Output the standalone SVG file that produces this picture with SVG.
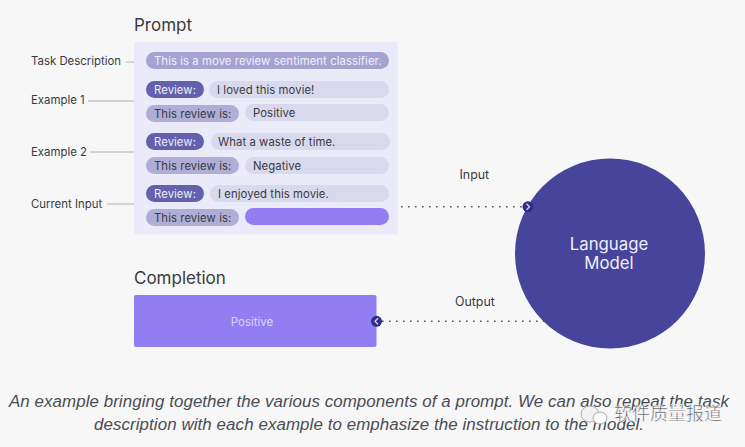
<svg xmlns="http://www.w3.org/2000/svg" width="745" height="447" viewBox="0 0 745 447">
<style>
text{font-family:Inter,"Liberation Sans",sans-serif;fill:#3a3a40}
.lbl{font-size:11.4px}
.io{font-size:12.4px}
.h{font-size:17px}
.pill{font-size:11.3px;letter-spacing:.08px}
.w{fill:#e6e4f3}
.k{fill:#b0aed6}
.d{fill:#6360ad}
.v{fill:#d9d9ee}
.ln{stroke:#b0b0b5;stroke-width:1;fill:none}
.dot{stroke:#55555c;stroke-width:1.6;stroke-dasharray:1.6 5.4;fill:none}
.cap{font-family:"Liberation Sans",sans-serif;font-style:italic;font-size:16.900px;fill:#4a4d55;text-anchor:middle}
.chev{stroke:#d5d5ee;stroke-width:1.3;fill:none}
.lm{font-size:16.800px;fill:#f0f0fa}
</style>
<rect width="745" height="447" fill="#f7f7f7"/>
<g id="connectors">
<path class="ln" d="M126 62H143M88 101H143M90 152H143M107 204H143"/>
<path class="dot" d="M401 206.700H524M382 321.300H545"/>
</g>
<g id="prompt">
<text class="h" x="134" y="31">Prompt</text>
<rect x="134" y="42" width="264" height="192.500" rx="2" fill="#ebeaf8"/>
<g id="task">
<text class="lbl" x="31" y="65">Task Description</text>
<rect x="146" y="52" width="243" height="17" rx="8.500" fill="#a6a3d3"/>
<text class="pill" x="154" y="65" style="fill:#eeeef8">This is a move review sentiment classifier.</text>
</g>
<g id="example1">
<text class="lbl" x="31" y="104">Example 1</text>
<rect class="d" x="146" y="81" width="58" height="17" rx="8.500"/>
<text class="pill" x="154" y="94" style="fill:#eeeef8">Review:</text>
<rect class="v" x="209" y="81" width="180" height="17" rx="8.500"/>
<text class="pill" x="217" y="94">I loved this movie!</text>
<rect class="k" x="146" y="105" width="93" height="17" rx="8.500"/>
<text class="pill" x="154" y="118">This review is:</text>
<rect class="v" x="245" y="104" width="144" height="17" rx="8.500"/>
<text class="pill" x="253" y="117">Positive</text>
</g>
<g id="example2">
<text class="lbl" x="31" y="156">Example 2</text>
<rect class="d" x="146" y="133" width="58" height="17" rx="8.500"/>
<text class="pill" x="154" y="146" style="fill:#eeeef8">Review:</text>
<rect class="v" x="211" y="133" width="179" height="17" rx="8.500"/>
<text class="pill" x="218" y="146">What a waste of time.</text>
<rect class="k" x="146" y="157" width="93" height="17" rx="8.500"/>
<text class="pill" x="154" y="170">This review is:</text>
<rect class="v" x="245" y="157" width="144" height="17" rx="8.500"/>
<text class="pill" x="253" y="170">Negative</text>
</g>
<g id="current">
<text class="lbl" x="31" y="208">Current Input</text>
<rect class="d" x="146" y="185" width="58" height="17" rx="8.500"/>
<text class="pill" x="154" y="198" style="fill:#eeeef8">Review:</text>
<rect class="v" x="210" y="185" width="179" height="17" rx="8.500"/>
<text class="pill" x="218" y="198">I enjoyed this movie.</text>
<rect class="k" x="146" y="209" width="93" height="17" rx="8.500"/>
<text class="pill" x="154" y="222">This review is:</text>
<rect x="245" y="208" width="144" height="17" rx="8.500" fill="#937df2"/>
</g>
</g>
<g id="completion">
<text class="h" x="134" y="284">Completion</text>
<rect x="134" y="295" width="242.500" height="52" rx="2" fill="#937df2"/>
<text x="252" y="326" text-anchor="middle" style="font-size:11.500px;fill:#d9d3fa">Positive</text>
</g>
<g id="model">
<circle cx="610" cy="253.500" r="95" fill="#46449b"/>
<text class="lm" x="609" y="250" text-anchor="middle">Language</text>
<text class="lm" x="609" y="269" text-anchor="middle">Model</text>
</g>
<g id="edge-labels">
<text class="io" x="459.500" y="179">Input</text>
<text class="io" x="455" y="306">Output</text>
</g>
<g id="ports">
<circle cx="528" cy="206.700" r="5.500" fill="#2f2d86"/>
<path class="chev" d="M526.500 203.700L529.500 206.700L526.500 209.700"/>
<circle cx="376.500" cy="321.300" r="5.500" fill="#2f2d86"/>
<path class="chev" d="M378 318.300L375 321.300L378 324.300"/>
</g>
<g id="caption">
<text class="cap" x="369" y="407" textLength="720" lengthAdjust="spacing">An example bringing together the various components of a prompt. We can also repeat the task</text>
<text class="cap" x="369" y="430" textLength="550" lengthAdjust="spacing">description with each example to emphasize the instruction to the model.</text>
</g>
<g id="watermark">
<text x="614" y="420" style="font-family:'Noto Sans CJK SC',sans-serif;font-size:18px;fill:#55555c;stroke:#fff;stroke-width:.5px">软件质量报道</text>
<ellipse cx="590" cy="414" rx="9" ry="8" fill="#f2f2f2" stroke="#9a9a9a" stroke-width=".8"/>
<ellipse cx="600" cy="418" rx="7" ry="6" fill="#fbfbfb" stroke="#9a9a9a" stroke-width=".8"/>
</g>
</svg>
